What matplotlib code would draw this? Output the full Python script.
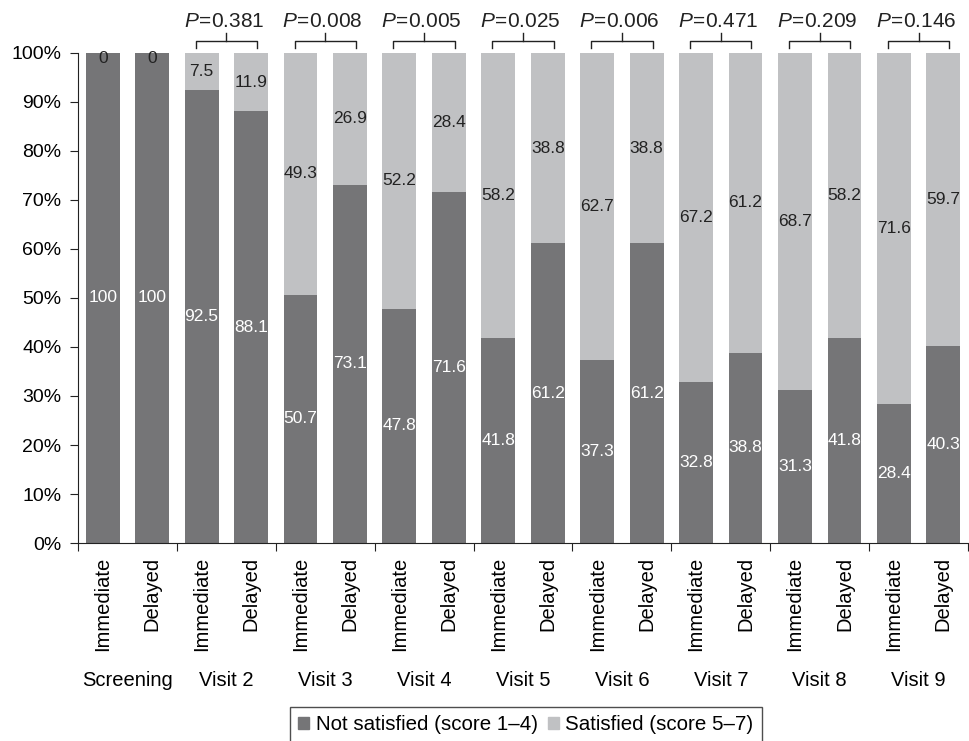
import numpy as np
import matplotlib.pyplot as plt
from matplotlib.patches import Patch

plt.rcParams['font.family'] = ['Liberation Sans', 'DejaVu Sans']
plt.rcParams['mathtext.fontset'] = 'custom'
plt.rcParams['mathtext.rm'] = 'Liberation Sans'
plt.rcParams['mathtext.it'] = 'Liberation Sans:italic'

# Satisfaction by visit and arm (% of patients)
visits = ['Screening', 'Visit 2', 'Visit 3', 'Visit 4', 'Visit 5',
          'Visit 6', 'Visit 7', 'Visit 8', 'Visit 9']
arms = ['Immediate', 'Delayed']
not_satisfied = [100, 100, 92.5, 88.1, 50.7, 73.1, 47.8, 71.6, 41.8, 61.2,
                 37.3, 61.2, 32.8, 38.8, 31.3, 41.8, 28.4, 40.3]
satisfied = [0, 0, 7.5, 11.9, 49.3, 26.9, 52.2, 28.4, 58.2, 38.8,
             62.7, 38.8, 67.2, 61.2, 68.7, 58.2, 71.6, 59.7]
p_values = ['0.381', '0.008', '0.005', '0.025', '0.006', '0.471', '0.209', '0.146']

dark = '#757577'
light = '#c0c1c3'
ink = '#222222'

fig = plt.figure(figsize=(9.7, 7.41), dpi=100)
ax = fig.add_axes([0.0804, 0.2672, 0.9176, 0.6613])

x = np.arange(len(not_satisfied))
width = 0.684
ax.bar(x, not_satisfied, width, color=dark)
ax.bar(x, satisfied, width, bottom=not_satisfied, color=light)

# value labels in the middle of each segment
for xi, ns, s in zip(x, not_satisfied, satisfied):
    ax.text(xi, ns / 2, f'{ns:g}', ha='center', va='center',
            color='white', fontsize=12.5)
    if s > 0:
        ax.text(xi, ns + s / 2, f'{s:g}', ha='center', va='center',
                color=ink, fontsize=12.5)
    else:
        ax.text(xi, 100.5, f'{s:g}', ha='center', va='top',
                color=ink, fontsize=12.5)

# P-value brackets over each visit pair (from visit 2 on)
for i, p in enumerate(p_values):
    c = 2 * (i + 1) + 0.5
    ax.plot([c - 0.62, c - 0.62, c + 0.62, c + 0.62], [101, 102.5, 102.5, 101],
            color=ink, lw=1, clip_on=False)
    ax.plot([c, c], [102.5, 104.1], color=ink, lw=1, clip_on=False)
    ax.text(c - 0.05, 105.3, rf'$P\!=\!{p}$', ha='center', va='baseline',
            fontsize=15, color=ink)

ax.set_xlim(-0.5, 17.4)
ax.set_ylim(0, 100)
ax.set_yticks(np.arange(0, 101, 10))
ax.set_yticklabels([f'{v}%' for v in range(0, 101, 10)], fontsize=14)

ax.set_xticks(np.arange(-0.5, 17.6, 2))
ax.set_xticklabels([])
ax.set_xticks(x, arms * len(visits), minor=True, rotation=90,
              fontsize=14.5, va='top')
ax.tick_params(axis='x', which='minor', length=0, pad=10)
ax.tick_params(axis='both', which='major', direction='out', length=6,
               color=ink)
ax.tick_params(axis='y', pad=6)

for j, v in enumerate(visits):
    ax.annotate(v, xy=(2 * j + 0.5, 0), xycoords=('data', 'axes fraction'),
                xytext=(0, -99), textcoords='offset points',
                ha='center', va='center', fontsize=14.5)

for side in ['top', 'right']:
    ax.spines[side].set_visible(False)
for side in ['left', 'bottom']:
    ax.spines[side].set_color(ink)

handles = [Patch(color=dark, label='Not satisfied (score 1\u20134)'),
           Patch(color=light, label='Satisfied (score 5\u20137)')]
leg = fig.legend(handles=handles, loc='upper center', ncol=2,
                 bbox_to_anchor=(0.542, 0.046), fontsize=14.8,
                 handlelength=0.55, handleheight=0.55, handletextpad=0.3,
                 columnspacing=0.5, fancybox=False, borderpad=0.4,
                 borderaxespad=0, frameon=True)
leg.get_frame().set_edgecolor(ink)
leg.get_frame().set_linewidth(1)

fig.savefig('out.png', dpi=100)
